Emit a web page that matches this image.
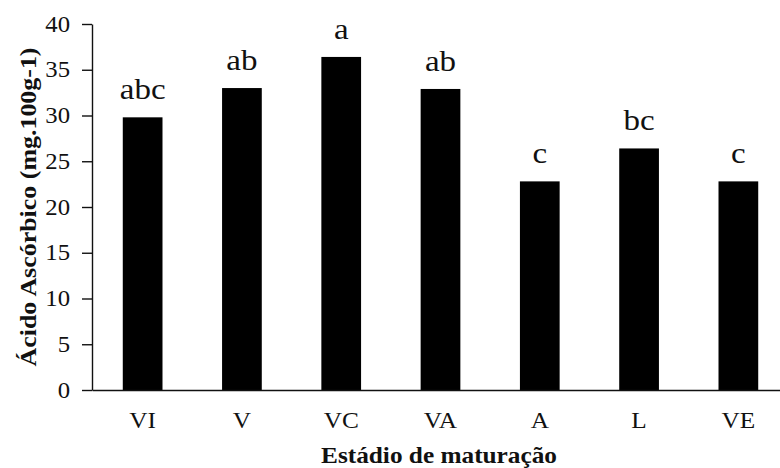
<!DOCTYPE html>
<html>
<head>
<meta charset="utf-8">
<script src="https://cdn.jsdelivr.net/npm/d3@7"></script>
<style>
  body { margin: 0; background: #fff; }
  text { font-family: "Liberation Serif", "Times New Roman", serif; fill: #111; }
</style>
</head>
<body>
<div id="chart"></div>
<script>
const width = 780;
const height = 468;

const stages = ["VI", "V", "VC", "VA", "A", "L", "VE"];
const values = [29.8, 33.0, 36.4, 32.9, 22.8, 26.4, 22.8];
const letters = ["abc", "ab", "a", "ab", "c", "bc", "c"];
const yTicks = [0, 5, 10, 15, 20, 25, 30, 35, 40];

// the reference text is a bit wider than plain Times
const stretch = 1.1;

const xScale = d3
  .scaleBand()
  .domain(stages)
  .range([92, 789])
  .paddingInner(0.6)
  .paddingOuter(0.31);

const yScale = d3
  .scaleLinear()
  .domain([0, 40])
  .range([390, 24]);

const svg = d3
  .select("#chart")
  .append("svg")
  .attr("width", width)
  .attr("height", height)
  .style("background", "#fff");

// bars
svg
  .selectAll("rect.bar")
  .data(values)
  .enter()
  .append("rect")
  .attr("class", "bar")
  .attr("x", (d, i) => xScale(stages[i]))
  .attr("y", d => yScale(d))
  .attr("width", xScale.bandwidth())
  .attr("height", d => yScale(0) - yScale(d))
  .attr("fill", "#000");

// y axis
const yAxis = d3
  .axisLeft(yScale)
  .tickValues(yTicks)
  .tickSize(10)
  .tickSizeOuter(0)
  .tickPadding(12);

const gy = svg
  .append("g")
  .attr("transform", "translate(92,0)")
  .call(yAxis);

gy.selectAll("path, line").attr("stroke", "#111").attr("stroke-width", 1.4);
gy.selectAll("text")
  .style("font-family", "Liberation Serif")
  .style("font-size", "22.5px")
  .attr("fill", "#111")
  .attr("x", -22 / stretch)
  .attr("transform", `scale(${stretch},1)`);

// x axis
const xAxis = d3
  .axisBottom(xScale)
  .tickSize(0)
  .tickSizeOuter(0)
  .tickPadding(22);

const gx = svg
  .append("g")
  .attr("transform", "translate(0,390)")
  .call(xAxis);

gx.select("path.domain").attr("stroke", "#111").attr("stroke-width", 1.4);
gx.selectAll("text")
  .style("font-family", "Liberation Serif")
  .style("font-size", "23px")
  .attr("fill", "#111")
  .attr("transform", `scale(${stretch},1)`);

// significance letters
svg
  .selectAll("text.letter")
  .data(values)
  .enter()
  .append("text")
  .attr("class", "letter")
  .attr("text-anchor", "middle")
  .attr("transform", (d, i) =>
    `translate(${xScale(stages[i]) + xScale.bandwidth() / 2},${yScale(d) - 18}) scale(${stretch},1)`)
  .style("font-size", "30px")
  .text((d, i) => letters[i]);

// axis titles
svg
  .append("text")
  .attr("text-anchor", "middle")
  .attr("transform", `translate(439,463) scale(${stretch},1)`)
  .style("font-size", "23px")
  .style("font-weight", "bold")
  .text("Estádio de maturação");

svg
  .append("text")
  .attr("text-anchor", "middle")
  .attr("transform", "translate(36,207) rotate(-90)")
  .attr("textLength", 319)
  .attr("lengthAdjust", "spacingAndGlyphs")
  .style("font-size", "24px")
  .style("font-weight", "bold")
  .text("Ácido Ascórbico (mg.100g-1)");
</script>
</body>
</html>
